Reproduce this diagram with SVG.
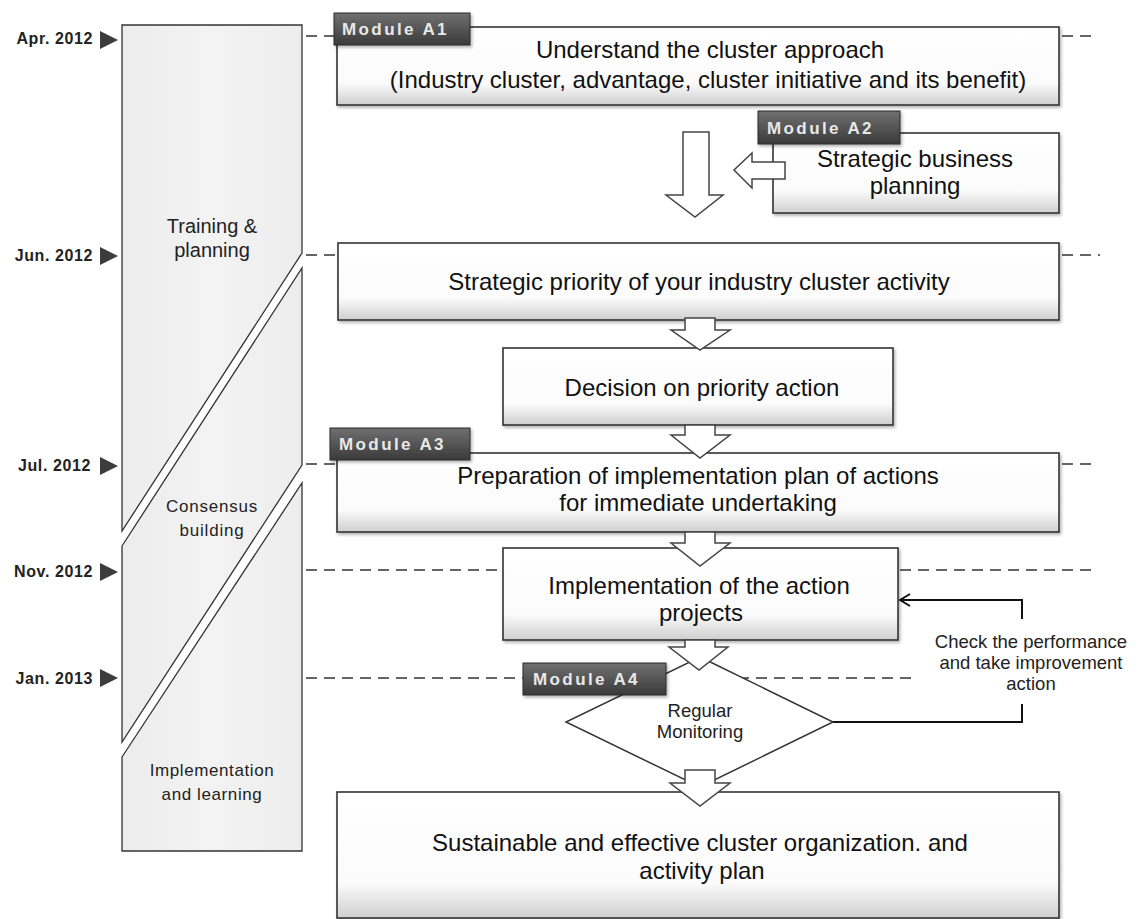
<svg xmlns="http://www.w3.org/2000/svg" width="1141" height="919" viewBox="0 0 1141 919">
<defs>
<linearGradient id="boxg" x1="0" y1="0" x2="0" y2="1">
<stop offset="0" stop-color="#ffffff"/>
<stop offset="0.72" stop-color="#fbfbfb"/>
<stop offset="1" stop-color="#cfcfcf"/>
</linearGradient>
<linearGradient id="labg" x1="0" y1="0" x2="0" y2="1">
<stop offset="0" stop-color="#707070"/>
<stop offset="1" stop-color="#3a3a3a"/>
</linearGradient>
<linearGradient id="colg" x1="0" y1="0" x2="1" y2="0">
<stop offset="0" stop-color="#ececec"/>
<stop offset="0.5" stop-color="#f3f3f3"/>
<stop offset="1" stop-color="#ededed"/>
</linearGradient>
<filter id="sh" x="-5%" y="-10%" width="115%" height="130%">
<feDropShadow dx="1.5" dy="2" stdDeviation="1.5" flood-color="#000" flood-opacity="0.3"/>
</filter>
<marker id="chev" viewBox="0 0 12 14" refX="11" refY="7" markerWidth="12" markerHeight="14" markerUnits="userSpaceOnUse" orient="auto">
<path d="M1,1 L11,7 L1,13" fill="none" stroke="#111" stroke-width="2"/>
</marker>
<style>
.date{font-family:"Liberation Sans",Arial,sans-serif;font-weight:bold;font-size:16px;letter-spacing:0.6px;fill:#222;text-anchor:end}
.tri{fill:#3c3c3c}
.dash{stroke:#333;stroke-width:1.6;stroke-dasharray:11 7;fill:none}
.col{fill:url(#colg);stroke:#333;stroke-width:1.3}
.coltxt{font-family:"Liberation Sans",Arial,sans-serif;fill:#222;text-anchor:middle}
.box{fill:url(#boxg);stroke:#333;stroke-width:1.6}
.bt{font-family:"Liberation Sans",Arial,sans-serif;font-size:24px;fill:#111;text-anchor:middle}
.arr{fill:#fff;stroke:#444;stroke-width:1.5;stroke-linejoin:miter}
.lab{fill:url(#labg);stroke:#2a2a2a;stroke-width:1}
.labt{font-family:"Liberation Sans",Arial,sans-serif;font-weight:bold;font-size:17px;letter-spacing:2.4px;fill:#e8e8e8}
.conn{fill:none;stroke:#111;stroke-width:2}
.small{font-family:"Liberation Sans",Arial,sans-serif;font-size:18.5px;fill:#222;text-anchor:middle}
</style>
</defs>
<rect width="1141" height="919" fill="#ffffff"/>

<g id="timeline">
<text class="date" x="93" y="44">Apr. 2012</text>
<polygon class="tri" points="100,31 118,40 100,49"/>
<text class="date" x="93" y="261">Jun. 2012</text>
<polygon class="tri" points="100,247 118,256 100,265"/>
<text class="date" x="91" y="471">Jul. 2012</text>
<polygon class="tri" points="100,457 118,466 100,475"/>
<text class="date" x="93" y="577">Nov. 2012</text>
<polygon class="tri" points="100,563 118,572 100,581"/>
<text class="date" x="93" y="684">Jan. 2013</text>
<polygon class="tri" points="100,669 118,678 100,687"/>
<line class="dash" x1="306" y1="36" x2="1098" y2="36"/>
<line class="dash" x1="306" y1="255" x2="1100" y2="255"/>
<line class="dash" x1="306" y1="464" x2="1098" y2="464"/>
<line class="dash" x1="306" y1="570" x2="1092" y2="570"/>
<line class="dash" x1="306" y1="678" x2="914" y2="678"/>
</g>

<g id="phase-training">
<polygon class="col" points="122,25 302,25 302,253 122,531"/>
<text class="coltxt" x="212" y="233" font-size="20">Training &amp;</text>
<text class="coltxt" x="212" y="257" font-size="20">planning</text>
</g>
<g id="phase-consensus">
<polygon class="col" points="122,546 302,268 302,465 122,742"/>
<text class="coltxt" x="212" y="512" font-size="17" letter-spacing="0.8">Consensus</text>
<text class="coltxt" x="212" y="536" font-size="17" letter-spacing="0.8">building</text>
</g>
<g id="phase-implementation">
<polygon class="col" points="122,757 302,483 302,851 122,851"/>
<text class="coltxt" x="212" y="776" font-size="17" letter-spacing="0.6">Implementation</text>
<text class="coltxt" x="212" y="800" font-size="17" letter-spacing="0.6">and learning</text>
</g>

<g id="connectors">
<path class="conn" d="M833,722 H1022 V704"/>
<path class="conn" d="M1022,619 V600 H900" marker-end="url(#chev)"/>
<text class="small" x="1031" y="648">Check the performance</text>
<text class="small" x="1031" y="669">and take improvement</text>
<text class="small" x="1031" y="690">action</text>
</g>

<g id="node-a1">
<rect class="box" x="337" y="27" width="722" height="78" filter="url(#sh)"/>
<text class="bt" x="710" y="58">Understand the cluster approach</text>
<text class="bt" x="708" y="88">(Industry cluster, advantage, cluster initiative and its benefit)</text>
</g>
<g id="node-a2">
<rect class="box" x="773" y="133" width="286" height="80" filter="url(#sh)"/>
<text class="bt" x="915" y="167">Strategic business</text>
<text class="bt" x="915" y="194">planning</text>
</g>
<g id="node-priority">
<rect class="box" x="338" y="243" width="721" height="77" filter="url(#sh)"/>
<text class="bt" x="699" y="290">Strategic priority of your industry cluster activity</text>
</g>
<g id="node-decision">
<rect class="box" x="503" y="348" width="390" height="77" filter="url(#sh)"/>
<text class="bt" x="702" y="396">Decision on priority action</text>
</g>
<g id="node-preparation">
<rect class="box" x="337" y="453" width="722" height="79" filter="url(#sh)"/>
<text class="bt" x="698" y="484">Preparation of implementation plan of actions</text>
<text class="bt" x="698" y="511">for immediate undertaking</text>
</g>
<g id="node-implementation">
<rect class="box" x="503" y="548" width="395" height="92" filter="url(#sh)"/>
<text class="bt" x="699" y="594">Implementation of the action</text>
<text class="bt" x="701" y="621">projects</text>
</g>
<g id="node-monitoring">
<polygon points="700,657 833,722 700,787 566,722" fill="#fff" stroke="#333" stroke-width="1.5"/>
<text class="small" x="700" y="717">Regular</text>
<text class="small" x="700" y="738">Monitoring</text>
</g>
<g id="node-outcome">
<rect class="box" x="337" y="792" width="722" height="126" filter="url(#sh)"/>
<text class="bt" x="700" y="851">Sustainable and effective cluster organization. and</text>
<text class="bt" x="702" y="879">activity plan</text>
</g>

<g id="flow-arrows">
<polygon class="arr" points="683,132 709,132 709,195 723,195 695,217 666,195 683,195"/>
<polygon class="arr" points="785,162 752,162 752,153 734,170 752,188 752,179 785,179"/>
<polygon class="arr" points="685,318 715,318 715,330 730,330 700,350 671,330 685,330"/>
<polygon class="arr" points="685,425 715,425 715,435 730,435 700,458 671,435 685,435"/>
<polygon class="arr" points="685,532 715,532 715,543 730,543 700,566 671,543 685,543"/>
<polygon class="arr" points="685,640 715,640 715,647 728,647 699,670 669,647 685,647"/>
<polygon class="arr" points="685,770 715,770 715,783 730,783 700,806 670,783 685,783"/>
</g>

<g id="module-labels">
<g id="label-a1"><rect class="lab" x="334" y="13" width="136" height="32" filter="url(#sh)"/><text class="labt" x="342" y="35">Module A1</text></g>
<g id="label-a2"><rect class="lab" x="758" y="111" width="142" height="33" filter="url(#sh)"/><text class="labt" x="767" y="134">Module A2</text></g>
<g id="label-a3"><rect class="lab" x="330" y="428" width="140" height="32" filter="url(#sh)"/><text class="labt" x="339" y="450">Module A3</text></g>
<g id="label-a4"><rect class="lab" x="523" y="663" width="143" height="32" filter="url(#sh)"/><text class="labt" x="533" y="685">Module A4</text></g>
</g>
</svg>
